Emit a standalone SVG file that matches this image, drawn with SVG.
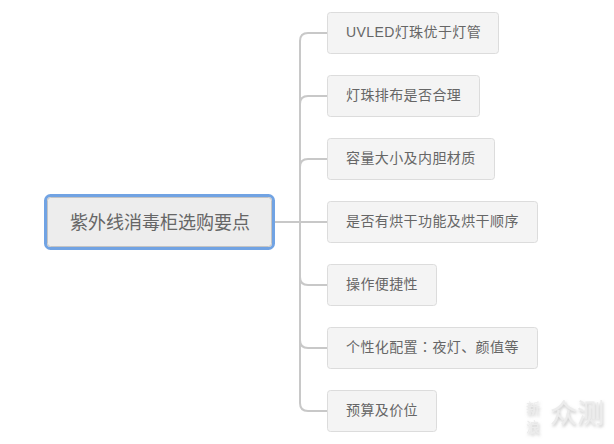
<svg xmlns="http://www.w3.org/2000/svg" width="614" height="444" viewBox="0 0 614 444">
<defs>
<filter id="soft" x="-20%" y="-20%" width="140%" height="150%"><feDropShadow dx="1" dy="2" stdDeviation="1.500" flood-color="#999" flood-opacity=".6"/></filter>
</defs>
<style>
text{font-family:"Liberation Sans","Noto Sans CJK SC",sans-serif;fill:#666}
.n rect{fill:#f4f4f4;stroke:#dcdcdc;stroke-width:1}
.n text{font-size:14px;letter-spacing:.4px}
.c{fill:none;stroke:#c8c8c8;stroke-width:2}
.w{font-family:"Noto Sans CJK SC",sans-serif;fill:#ececec;filter:url(#soft)}
</style>
<rect width="614" height="444" fill="#fff"/>
<g id="connectors">
<path class="c" d="M274 222H327"/>
<path class="c" d="M327 33H308Q300 33 300 41V403Q300 411 308 411H327"/>
<path class="c" d="M327 96H308Q300 96 300 104"/>
<path class="c" d="M327 159H308Q300 159 300 167"/>
<path class="c" d="M327 285H308Q300 285 300 277"/>
<path class="c" d="M327 348H308Q300 348 300 340"/>
</g>
<g id="root">
<rect x="45.500" y="195.500" width="228" height="53" rx="5" fill="#ededed" stroke="#71a3e3" stroke-width="3"/>
<rect x="47.500" y="197.500" width="224" height="49" rx="3" fill="none" stroke="#c4c4c4" stroke-width="1"/>
<text x="70" y="229" font-size="18">紫外线消毒柜选购要点</text>
</g>
<g id="n1" class="n"><rect x="327.500" y="12.500" width="171" height="41" rx="3"/><text x="346" y="37">UVLED灯珠优于灯管</text></g>
<g id="n2" class="n"><rect x="327.500" y="75.500" width="152" height="41" rx="3"/><text x="346" y="100">灯珠排布是否合理</text></g>
<g id="n3" class="n"><rect x="327.500" y="138.500" width="167" height="41" rx="3"/><text x="346" y="163">容量大小及内胆材质</text></g>
<g id="n4" class="n"><rect x="327.500" y="201.500" width="210" height="41" rx="3"/><text x="346" y="226">是否有烘干功能及烘干顺序</text></g>
<g id="n5" class="n"><rect x="327.500" y="264.500" width="109" height="41" rx="3"/><text x="346" y="289">操作便捷性</text></g>
<g id="n6" class="n"><rect x="327.500" y="327.500" width="210" height="41" rx="3"/><text x="346" y="352">个性化配置<tspan font-family="Noto Sans CJK TC">：</tspan>夜灯、颜值等</text></g>
<g id="n7" class="n"><rect x="327.500" y="390.500" width="109" height="41" rx="3"/><text x="346" y="415">预算及价位</text></g>
<g id="watermark">
<text class="w" x="526" y="413" font-size="14">新</text>
<text class="w" x="526" y="432" font-size="14">浪</text>
<text class="w" x="550" y="423" font-size="27">众测</text>
</g>
</svg>
